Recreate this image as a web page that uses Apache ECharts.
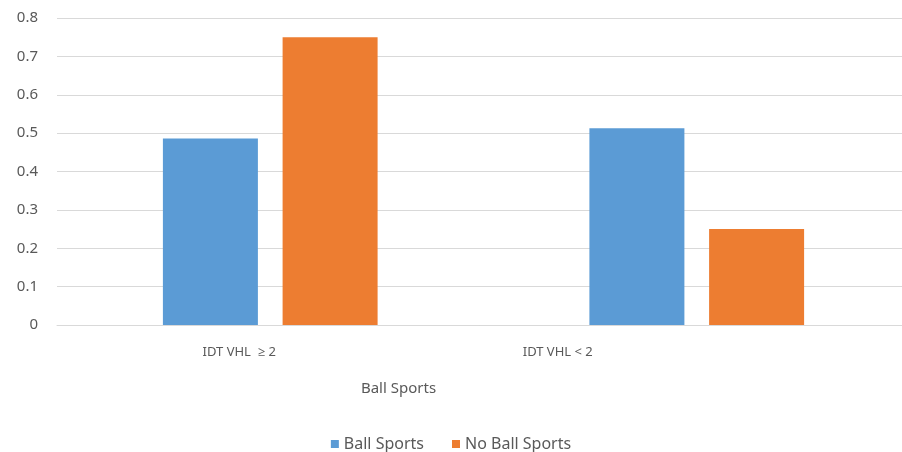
<!DOCTYPE html>
<html>
<head>
<meta charset="utf-8">
<script src="https://cdn.jsdelivr.net/npm/echarts@6/dist/echarts.min.js"></script>
<style>html,body{margin:0;padding:0;background:#fff;overflow:hidden}#c{width:902px;height:452px}</style>
</head>
<body>
<div id="c"></div>
<script>
const categories = ['IDT VHL  \u2265 2', 'IDT VHL < 2'];
const seriesNames = ['Ball Sports', 'No Ball Sports'];
const ballSports = [0.486, 0.513];
const noBallSports = [0.75, 0.25];
const yTicks = { min: 0, max: 0.8, interval: 0.1 };
const xAxisTitle = 'Ball Sports';

const font = '"Noto Sans", "Open Sans", sans-serif';
const txt = '#595959';
const chart = echarts.init(document.getElementById('c'));
chart.setOption({
  animation: false,
  grid: { left: 57, top: 18, right: -8, bottom: 127, containLabel: false, outerBoundsMode: 'none' },
  legend: {
    data: seriesNames, top: 431, left: 'center', itemWidth: 8, itemHeight: 8, itemGap: 28,
    icon: 'rect', textStyle: { color: txt, fontSize: 16, fontFamily: font }
  },
  xAxis: {
    type: 'category', data: categories,
    axisLine: { lineStyle: { color: '#d9d9d9' } },
    axisTick: { show: false },
    axisLabel: {
      margin: 21, color: txt, fontSize: 13, fontFamily: font,
      formatter: (v, i) => '{s' + i + '|' + v + '}',
      rich: {
        s0: { padding: [0, 62, 0, 0], color: txt, fontSize: 13, fontFamily: font },
        s1: { padding: [0, 278, 0, 0], color: txt, fontSize: 13, fontFamily: font }
      }
    },
    name: xAxisTitle, nameLocation: 'middle', nameGap: 56,
    nameTextStyle: { color: txt, fontSize: 15, fontFamily: font, padding: [0, 170, 0, 0] }
  },
  yAxis: {
    type: 'value', min: yTicks.min, max: yTicks.max, interval: yTicks.interval,
    axisLine: { show: false }, axisTick: { show: false },
    splitLine: { lineStyle: { color: '#d9d9d9' } },
    axisLabel: { color: txt, fontSize: 15, fontFamily: font, margin: 19 }
  },
  series: [
    { name: seriesNames[0], type: 'bar', data: ballSports, barWidth: 95, barGap: '26%',
      itemStyle: { color: '#5B9BD5' } },
    { name: seriesNames[1], type: 'bar', data: noBallSports, barWidth: 95, barGap: '26%',
      itemStyle: { color: '#ED7D31' } }
  ]
});
</script>
</body>
</html>
